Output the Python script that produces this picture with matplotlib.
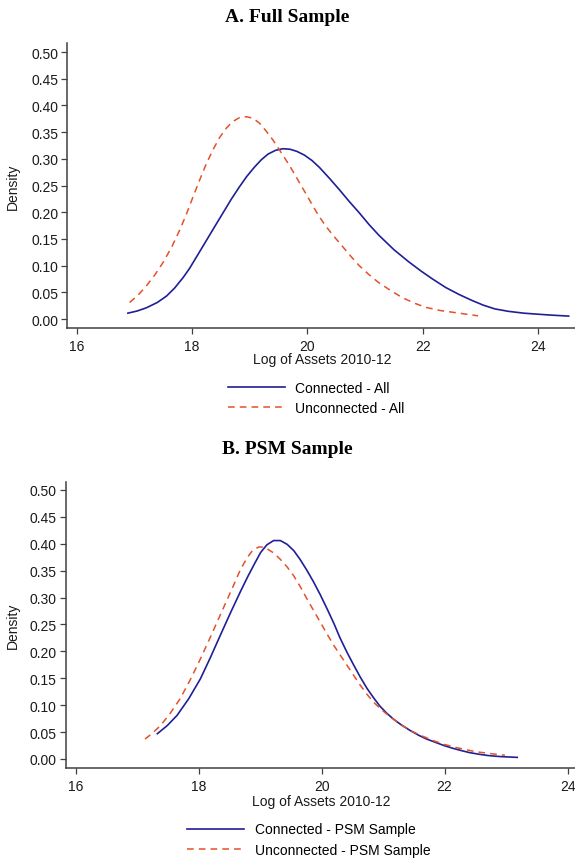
import numpy as np
import matplotlib
matplotlib.use("Agg")
import matplotlib.pyplot as plt

# fonts
plt.rcParams['font.family'] = ['Liberation Sans', 'DejaVu Sans']
plt.rcParams['font.size'] = 10

# panel A data
a_conn_x = [16.89, 17.05, 17.21, 17.40, 17.56, 17.70, 17.85, 17.96, 18.10, 18.25, 18.40, 18.54,
            18.68, 18.82, 18.95, 19.08, 19.20, 19.32, 19.45, 19.58, 19.70, 19.82, 19.95, 20.08,
            20.21, 20.38, 20.55, 20.72, 20.90, 21.07, 21.24, 21.50, 21.76, 21.97, 22.17, 22.40,
            22.63, 22.85, 23.05, 23.25, 23.48, 23.75, 24.00, 24.25, 24.53]
a_conn_y = [0.011, 0.015, 0.021, 0.031, 0.043, 0.058, 0.078, 0.095, 0.120, 0.147, 0.174, 0.199,
            0.224, 0.247, 0.267, 0.284, 0.298, 0.309, 0.316, 0.319, 0.318, 0.314, 0.307, 0.297,
            0.284, 0.264, 0.243, 0.221, 0.199, 0.177, 0.157, 0.130, 0.107, 0.090, 0.075, 0.059,
            0.046, 0.035, 0.026, 0.019, 0.0145, 0.011, 0.0090, 0.0072, 0.0055]
a_unconn_x = [16.92, 17.07, 17.21, 17.36, 17.50, 17.65, 17.79, 17.91, 18.02, 18.14, 18.25, 18.37,
              18.48, 18.60, 18.71, 18.82, 18.94, 19.06, 19.17, 19.28, 19.40, 19.51, 19.63, 19.75,
              19.86, 19.98, 20.09, 20.20, 20.32, 20.46, 20.61, 20.75, 20.90, 21.07, 21.24, 21.45,
              21.65, 21.85, 22.05, 22.30, 22.63, 22.96]
a_unconn_y = [0.031, 0.045, 0.062, 0.083, 0.106, 0.135, 0.167, 0.198, 0.229, 0.262, 0.291, 0.318,
              0.340, 0.358, 0.370, 0.377, 0.379, 0.376, 0.367, 0.353, 0.336, 0.318, 0.298, 0.277,
              0.256, 0.234, 0.213, 0.193, 0.174, 0.155, 0.136, 0.118, 0.100, 0.083, 0.068, 0.053,
              0.040, 0.030, 0.022, 0.016, 0.011, 0.006]

# panel B data
b_conn_x = [17.33, 17.49, 17.65, 17.84, 18.03, 18.19, 18.35, 18.52, 18.68, 18.80, 18.91, 19.01,
            19.11, 19.22, 19.33, 19.44, 19.55, 19.65, 19.76, 19.87, 19.98, 20.09, 20.20, 20.30,
            20.41, 20.52, 20.63, 20.74, 20.85, 20.95, 21.06, 21.17, 21.30, 21.44, 21.58, 21.71,
            21.85, 21.99, 22.13, 22.26, 22.40, 22.55, 22.70, 22.90, 23.18]
b_conn_y = [0.047, 0.062, 0.081, 0.112, 0.149, 0.188, 0.229, 0.272, 0.311, 0.339, 0.363, 0.384,
            0.398, 0.406, 0.406, 0.399, 0.387, 0.371, 0.351, 0.329, 0.305, 0.279, 0.252, 0.225,
            0.199, 0.175, 0.152, 0.131, 0.113, 0.098, 0.085, 0.074, 0.063, 0.053, 0.044, 0.037,
            0.031, 0.025, 0.020, 0.016, 0.012, 0.009, 0.0065, 0.0045, 0.003]
b_unconn_x = [17.13, 17.25, 17.38, 17.54, 17.70, 17.86, 18.03, 18.19, 18.35, 18.46, 18.57, 18.68,
              18.79, 18.88, 18.98, 19.05, 19.11, 19.22, 19.33, 19.44, 19.55, 19.66, 19.76, 19.87,
              19.98, 20.09, 20.20, 20.31, 20.42, 20.53, 20.63, 20.74, 20.85, 20.98, 21.12, 21.28,
              21.44, 21.63, 21.82, 22.00, 22.20, 22.50, 22.75, 22.98]
b_unconn_y = [0.037, 0.048, 0.062, 0.085, 0.112, 0.146, 0.186, 0.226, 0.267, 0.295, 0.323, 0.352,
              0.374, 0.388, 0.394, 0.394, 0.391, 0.383, 0.371, 0.357, 0.340, 0.319, 0.298, 0.276,
              0.254, 0.232, 0.211, 0.192, 0.173, 0.154, 0.137, 0.120, 0.105, 0.091, 0.078, 0.065,
              0.053, 0.043, 0.034, 0.027, 0.021, 0.0136, 0.010, 0.007]

x_ticks = [16, 18, 20, 22, 24]
y_ticks = np.arange(0, 0.51, 0.05)

BLUE = '#1f1f96'
RED = '#e4512a'
GREY = '#404040'

W, H = 575, 862
fig = plt.figure(figsize=(W / 100, H / 100), dpi=100)


def px_axes(left, top, right, bottom):
    # axes from pixel box
    return fig.add_axes([left / W, 1 - bottom / H, (right - left) / W, (bottom - top) / H])


def style(ax, xlim, ylim):
    ax.set_xlim(*xlim)
    ax.set_ylim(*ylim)
    ax.set_xticks(x_ticks)
    ax.set_yticks(y_ticks)
    ax.set_yticklabels([f'{v:.2f}' for v in y_ticks])
    for s in ['top', 'right']:
        ax.spines[s].set_visible(False)
    for s in ['left', 'bottom']:
        ax.spines[s].set_color(GREY)
        ax.spines[s].set_linewidth(1.1)
    ax.tick_params(axis='both', direction='out', length=4, width=0.9, color=GREY,
                   labelcolor='#1a1a1a', labelsize=10)
    ax.tick_params(axis='y', pad=2.5)
    ax.tick_params(axis='x', pad=4)
    ax.set_xlabel('Log of Assets 2010-12', color='#1a1a1a')
    ax.set_ylabel('Density', color='#1a1a1a')


# panel A
axA = px_axes(67.3, 44, 575, 329)
axA.plot(a_conn_x, a_conn_y, color=BLUE, lw=1.2, label='Connected - All')
axA.plot(a_unconn_x, a_unconn_y, color=RED, lw=1.1, dashes=(4.4, 3.3), label='Unconnected - All')
style(axA, (15.84, 24.64), (-0.0168, 0.517))
axA.xaxis.set_label_coords((322 - 67.3) / 507.7, -(360 - 329) / 285)
axA.xaxis.label.set_va('center')
axA.yaxis.set_label_coords((13 - 67.3) / 507.7, 0.5)
axA.yaxis.label.set_va('center')
fig.text(225 / W, 1 - 17 / H, 'A. Full Sample', family='Liberation Serif', weight='bold',
         fontsize=14, ha='left', va='center')
fig.legend(*axA.get_legend_handles_labels(), loc='center left',
           bbox_to_anchor=(227.7 / W, 1 - 399 / H), frameon=False, borderpad=0,
           borderaxespad=0, handlelength=4.1, handletextpad=0.75, labelspacing=0.45)

# panel B
axB = px_axes(65.7, 482.7, 575, 769.3)
axB.plot(b_conn_x, b_conn_y, color=BLUE, lw=1.2, label='Connected - PSM Sample')
axB.plot(b_unconn_x, b_unconn_y, color=RED, lw=1.1, dashes=(4.4, 3.3), label='Unconnected - PSM Sample')
style(axB, (15.84, 24.12), (-0.0173, 0.5154))
axB.xaxis.set_label_coords((321 - 65.7) / 509.3, -(801.7 - 769.3) / 286.6)
axB.xaxis.label.set_va('center')
axB.yaxis.set_label_coords((13 - 65.7) / 509.3, 0.5)
axB.yaxis.label.set_va('center')
fig.text(221.7 / W, 1 - 450 / H, 'B. PSM Sample', family='Liberation Serif', weight='bold',
         fontsize=14, ha='left', va='center')
fig.legend(*axB.get_legend_handles_labels(), loc='center left',
           bbox_to_anchor=(187.3 / W, 1 - 840.5 / H), frameon=False, borderpad=0,
           borderaxespad=0, handlelength=4.1, handletextpad=0.75, labelspacing=0.45)

fig.savefig('out.png', dpi=100)
